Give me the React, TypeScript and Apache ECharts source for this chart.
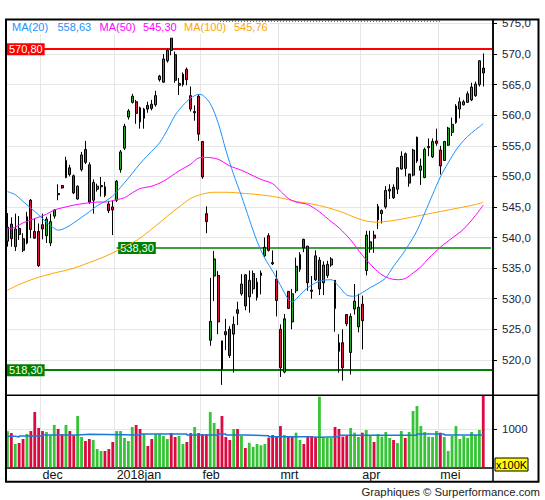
import React, { useEffect, useRef } from "react";
import * as echarts from "echarts";

const FONT = "'Liberation Sans', Arial, sans-serif";

// trading calendar (AEX): first session and exchange holidays
const START_DATE = "2017-11-20";
const HOLIDAYS = ["2017-12-25", "2017-12-26", "2018-01-01", "2018-03-30", "2018-04-02", "2018-05-01"];
const SLOT_COUNT = 125;
const MONTHS_NL = ["jan", "feb", "mrt", "apr", "mei", "jun", "jul", "aug", "sep", "okt", "nov", "dec"];

// [open, close, low, high]
const candles: number[][] = [
  [539.4, 541.7, 538.5, 544.0], [542.2, 539.8, 538.5, 543.3], [538.5, 541.4, 537.8, 543.9], [541.5, 540.5, 539.6, 543.5],
  [539.8, 537.9, 537.6, 540.7], [539.1, 543.4, 538.9, 544.2], [546.1, 541.3, 539.9, 546.3], [541.0, 539.9, 539.8, 543.1],
  [541.0, 535.4, 535.2, 542.3], [542.1, 541.4, 539.7, 543.9], [540.3, 543.0, 539.1, 543.4], [539.1, 542.6, 538.6, 543.9],
  [543.5, 544.5, 543.1, 544.6], [547.2, 547.0, 546.1, 548.7], [548.5, 548.1, 548.0, 548.6], [549.8, 552.6, 549.7, 553.2],
  [551.4, 550.3, 550.0, 551.9], [550.1, 547.3, 547.1, 550.3], [546.3, 548.4, 546.2, 548.5], [551.1, 553.5, 550.8, 554.0],
  [554.4, 552.3, 552.0, 555.8], [551.9, 545.8, 545.5, 552.3], [546.1, 549.0, 543.9, 549.5], [547.9, 548.4, 547.5, 548.8],
  [548.3, 548.5, 546.7, 549.9], [548.3, 546.9, 546.6, 549.1], [545.5, 544.4, 544.0, 546.0], [545.0, 544.5, 540.4, 546.1],
  [546.1, 549.2, 545.8, 549.4], [551.1, 554.0, 550.6, 554.3], [554.6, 558.2, 554.3, 558.6], [559.7, 560.7, 559.3, 561.0],
  [562.1, 563.1, 561.9, 563.5], [562.2, 560.3, 558.6, 562.5], [561.2, 558.9, 557.8, 561.4], [559.5, 561.0, 557.8, 561.2],
  [561.6, 561.0, 560.4, 562.2], [561.8, 561.1, 560.8, 562.5], [561.7, 563.2, 561.4, 564.0], [565.8, 566.4, 565.5, 566.6],
  [565.4, 569.2, 565.3, 570.0], [568.9, 570.6, 568.6, 570.9], [572.6, 570.6, 569.8, 572.6], [569.9, 565.7, 565.3, 570.4],
  [564.9, 565.2, 563.3, 566.1], [565.0, 566.7, 564.7, 567.0], [567.5, 565.8, 564.9, 567.8], [563.2, 561.0, 560.6, 564.7],
  [560.4, 560.6, 559.1, 561.6], [563.1, 556.9, 555.8, 563.4], [555.7, 549.9, 549.6, 555.8], [543.9, 542.6, 540.7, 545.1],
  [523.2, 526.3, 522.3, 533.4], [533.7, 536.5, 529.6, 537.8], [533.8, 526.2, 524.2, 534.5], [523.1, 518.5, 515.9, 523.1],
  [524.6, 524.1, 521.6, 526.7], [525.0, 520.7, 520.3, 525.5], [524.2, 525.8, 517.9, 527.1], [528.2, 527.6, 525.7, 529.5],
  [530.8, 532.4, 530.5, 534.0], [533.9, 528.8, 528.1, 534.0], [530.3, 533.0, 527.7, 534.6], [531.6, 534.1, 530.8, 534.6],
  [530.2, 532.7, 529.7, 533.4], [533.8, 534.2, 530.7, 534.6], [537.0, 538.4, 536.8, 540.0], [540.3, 537.9, 537.7, 540.7],
  [535.9, 535.7, 535.5, 537.9], [533.2, 529.7, 527.1, 534.6], [525.0, 518.7, 517.2, 525.8], [518.0, 526.7, 517.8, 527.5],
  [531.2, 528.4, 528.3, 531.2], [526.2, 530.8, 525.0, 531.6], [531.3, 535.3, 530.9, 536.7], [534.8, 537.2, 534.4, 537.6],
  [539.7, 538.3, 537.6, 539.8], [538.6, 532.6, 531.3, 538.6], [531.4, 531.2, 530.0, 533.7], [533.1, 537.0, 532.9, 537.9],
  [536.3, 531.6, 530.6, 536.8], [532.6, 535.5, 530.6, 536.1], [533.8, 535.6, 533.4, 536.2], [535.5, 536.5, 535.2, 536.8],
  [533.0, 528.4, 524.6, 533.0], [522.8, 521.4, 517.9, 524.2], [522.8, 518.7, 516.6, 525.0], [527.4, 525.9, 525.5, 527.4],
  [521.2, 527.1, 517.6, 527.6], [528.3, 529.6, 527.4, 532.4], [525.4, 528.6, 524.5, 530.8], [529.1, 526.4, 521.7, 530.5],
  [534.6, 540.4, 533.8, 541.1], [538.1, 539.3, 537.5, 541.1], [540.4, 539.9, 537.5, 541.1], [542.9, 545.1, 541.4, 545.5],
  [543.9, 544.4, 542.3, 544.6], [545.0, 547.7, 544.7, 548.4], [547.6, 547.9, 546.3, 548.7], [548.2, 546.5, 546.3, 548.7],
  [547.9, 551.4, 547.1, 551.5], [551.2, 553.3, 551.1, 554.1], [553.7, 551.3, 550.0, 553.9], [550.4, 548.9, 548.3, 550.4],
  [550.2, 554.3, 550.0, 554.5], [552.5, 556.4, 552.2, 556.5], [551.0, 551.7, 548.6, 552.9], [549.8, 554.4, 549.7, 554.7],
  [554.7, 554.9, 553.3, 556.2], [553.2, 555.7, 553.0, 556.2], [555.8, 555.4, 555.0, 557.8], [554.3, 551.7, 550.3, 555.0],
  [552.6, 555.7, 552.5, 555.8], [555.1, 557.9, 555.0, 558.1], [557.2, 558.5, 556.6, 559.6], [558.8, 561.5, 558.6, 561.8],
  [561.0, 562.2, 559.5, 562.9], [561.7, 562.2, 561.6, 562.5], [562.1, 563.5, 562.0, 563.9], [562.5, 564.6, 562.3, 565.3],
  [563.2, 565.1, 563.0, 565.5], [565.0, 568.9, 564.7, 569.0], [567.7, 566.9, 564.7, 570.1],
];

// volume in units of 100K
const volumes = [
  947, 894, 607, 634, 739, 869, 947, 1443, 1026, 947,
  921, 834, 1104, 1000, 869, 1104, 947, 834, 1339, 791,
  686, 739, 712, 477, 425, 425, 477, 660, 947, 947,
  765, 686, 1052, 1104, 1000, 869, 556, 739, 869, 869,
  817, 739, 894, 791, 817, 607, 660, 894, 1052, 894,
  869, 869, 1443, 1157, 1000, 1339, 791, 712, 1000, 1000,
  817, 504, 640, 535, 608, 573, 608, 773, 843, 817,
  1077, 843, 817, 817, 904, 713, 608, 817, 817, 782,
  1844, 765, 765, 765, 1052, 1000, 800, 843, 1026, 904,
  791, 904, 974, 817, 660, 869, 800, 921, 765, 713,
  634, 947, 765, 921, 1470, 1601, 1077, 921, 800, 791,
  947, 904, 791, 426, 817, 1077, 739, 817, 765, 921,
  843, 974, 1870,
];
// g = up-day bar, r = down-day bar (as coloured in the picture)
const volumeDir =
  "grgrrgrrrr" + "gggrrgrrgg" + "rrgggrrrgg" + "gggrrgrrgg" + "ggrrggrrgr" + "rrggrrrrgr" +
  "grgggggrrr" + "rgrrggrrrr" + "ggggrrrrgg" + "grggrggggr" + "ggrggggggg" + "grgggggggg" + "ggr";

// average volume (step line): [start index, level]
const avgVolumeSteps: number[][] = [
  [0, 808], [2, 791], [3, 817], [9, 843], [18, 860], [21, 843], [34, 869], [46, 843], [54, 869], [56, 843],
  [61, 826], [67, 800], [76, 782], [80, 800], [85, 834], [105, 869], [112, 843], [122, 843],
];

// moving averages: [index, value]
const ma20: number[][] = [
  [0, 547.5], [2, 547.0], [4, 545.9], [6, 544.8], [8, 543.7], [10, 542.5], [12, 541.5], [13, 541.2], [15, 541.6],
  [17, 542.4], [19, 543.3], [21, 544.2], [23, 545.2], [25, 545.9], [27, 546.8], [29, 548.2], [31, 549.7], [33, 551.3],
  [35, 552.8], [37, 554.1], [39, 555.5], [41, 557.6], [43, 560.0], [45, 561.6], [47, 562.8], [49, 563.4], [50, 563.3],
  [52, 561.9], [54, 558.8], [56, 554.3], [58, 550.3], [60, 546.8], [62, 543.0], [64, 539.4], [66, 536.6], [68, 534.5],
  [70, 532.2], [72, 529.9], [73, 529.5], [75, 530.6], [77, 531.8], [79, 532.6], [81, 533.0], [83, 533.1], [85, 532.0],
  [87, 530.6], [89, 530.4], [91, 531.0], [93, 531.8], [95, 532.5], [97, 533.4], [99, 535.3], [101, 537.0], [103, 538.9],
  [105, 541.1], [107, 544.0], [109, 547.0], [111, 549.9], [113, 552.2], [115, 554.3], [117, 555.9], [119, 557.1],
  [121, 558.1], [122, 558.63],
];
const ma50: number[][] = [
  [0, 541.4], [2, 541.7], [4, 542.4], [7, 543.1], [10, 543.8], [12, 544.5], [15, 545.0], [17, 545.3], [20, 545.6],
  [23, 545.8], [25, 545.8], [28, 546.2], [30, 546.5], [32, 547.3], [34, 548.0], [37, 548.4], [40, 549.2], [44, 550.9],
  [47, 552.0], [49, 553.0], [51, 553.1], [54, 552.8], [57, 551.7], [60, 551.0], [63, 550.1], [65, 549.5], [68, 548.8],
  [70, 547.6], [72, 546.4], [74, 545.8], [77, 545.4], [80, 544.2], [83, 542.6], [85, 541.6], [88, 539.6], [91, 537.1],
  [94, 535.0], [96, 533.9], [98, 533.3], [100, 533.1], [102, 533.3], [104, 534.2], [106, 535.2], [108, 536.6],
  [111, 538.4], [114, 539.9], [117, 541.4], [120, 543.6], [122, 545.3],
];
const ma100: number[][] = [
  [0, 531.4], [3, 532.3], [7, 533.3], [12, 534.2], [16, 534.8], [21, 535.9], [25, 536.9], [28, 537.8], [31, 538.8],
  [34, 539.9], [38, 541.9], [41, 543.5], [44, 545.0], [47, 546.4], [50, 547.1], [53, 547.4], [56, 547.4], [61, 547.2],
  [66, 546.9], [70, 546.5], [74, 545.9], [78, 545.5], [82, 544.9], [86, 544.1], [89, 543.3], [92, 542.7], [95, 542.5],
  [98, 542.7], [101, 543.0], [105, 543.5], [109, 544.0], [113, 544.5], [117, 545.0], [120, 545.4], [122, 545.76],
];

// horizontal price levels
const resistanceLevel = 570.8;
const supportLevel = 518.3;
const midLevel = 538.3;
const midLevelStartIndex = 28;

const priceTicks = [520, 525, 530, 535, 540, 545, 550, 555, 560, 565, 570, 575];
const volumeTicks = [1000];

const C_UP = "#22a822";
const C_DOWN = "#dc143c";
const V_UP = "#36c436";
const V_DOWN = "#dc0a40";
const C_MA20 = "#1e90ff";
const C_MA50 = "#ff00ff";
const C_MA100 = "#ffa500";
const C_RES = "#ff0000";
const C_SUP = "#008000";
const GRID_C = "#e6e6e6";

function tradingDays(start: string, count: number, holidays: string[]): string[] {
  const out: string[] = [];
  const d = new Date(start + "T12:00:00Z");
  while (out.length < count) {
    const dow = d.getUTCDay();
    const iso = d.toISOString().slice(0, 10);
    if (dow !== 0 && dow !== 6 && holidays.indexOf(iso) < 0) out.push(iso);
    d.setUTCDate(d.getUTCDate() + 1);
  }
  return out;
}

const fmt = (v: number, dec: number) => v.toFixed(dec).replace(".", ",");

export default function App() {
  const ref = useRef<HTMLDivElement>(null);

  useEffect(() => {
    const el = ref.current;
    if (!el) return;
    const chart = echarts.init(el, undefined, { renderer: "svg" });

    const categories = tradingDays(START_DATE, SLOT_COUNT, HOLIDAYS);
    const monthStarts: number[] = [];
    categories.forEach((c, i) => {
      if (i > 0 && c.slice(5, 7) !== categories[i - 1].slice(5, 7)) monthStarts.push(i);
    });
    const isMonthStart = (i: number) => monthStarts.indexOf(i) >= 0;
    const monthLabel = (val: string) => {
      const m = parseInt(val.slice(5, 7), 10);
      return m === 1 ? val.slice(0, 4) + "jan" : MONTHS_NL[m - 1];
    };

    const last = (a: number[][]) => a[a.length - 1][1];

    const levelLabel = (value: number, bg: string) => ({
      show: true,
      position: "insideStart",
      distance: [1.5, 0],
      formatter: fmt(value, 2),
      color: "#fff",
      backgroundColor: bg,
      fontFamily: FONT,
      fontSize: 11,
      lineHeight: 11,
      padding: [1, 2, 0, 2],
    });

    const legendItems = [
      { x: 12, text: "MA(20)", color: C_MA20 },
      { x: 57.5, text: fmt(last(ma20), 2), color: C_MA20 },
      { x: 99.5, text: "MA(50)", color: C_MA50 },
      { x: 143, text: fmt(last(ma50), 2), color: C_MA50 },
      { x: 184, text: "MA(100)", color: C_MA100 },
      { x: 234, text: fmt(last(ma100), 2), color: C_MA100 },
    ];

    const option: any = {
      animation: false,
      backgroundColor: "#ffffff",
      textStyle: { fontFamily: FONT },
      grid: [
        { left: 5.5, top: 19.5, width: 487.5, height: 375.8 },
        { left: 5.5, top: 395.3, width: 487.5, height: 72 },
      ],
      xAxis: [
        {
          type: "category",
          gridIndex: 0,
          data: categories,
          boundaryGap: true,
          axisLine: { show: false },
          axisTick: { show: false },
          axisLabel: { show: false },
          splitLine: { show: true, interval: (i: number) => isMonthStart(i), lineStyle: { color: GRID_C, width: 1 } },
        },
        {
          type: "category",
          gridIndex: 1,
          data: categories,
          boundaryGap: true,
          axisLine: { show: true, lineStyle: { color: "#000", width: 1.5 } },
          axisTick: { show: false },
          axisLabel: {
            show: true,
            interval: (i: number) => isMonthStart(i),
            formatter: (v: string) => monthLabel(v),
            align: "left",
            margin: 1,
            color: "#111",
            fontFamily: FONT,
            fontSize: 12.5,
          },
          splitLine: { show: true, interval: (i: number) => isMonthStart(i), lineStyle: { color: GRID_C, width: 1 } },
        },
      ],
      yAxis: [
        {
          type: "value",
          gridIndex: 0,
          position: "right",
          min: 514.2,
          max: 575.65,
          splitNumber: 12,
          axisLine: { show: true, lineStyle: { color: "#000", width: 1.5 } },
          axisTick: { show: true, length: 4, customValues: priceTicks, lineStyle: { color: "#000" } },
          axisLabel: {
            customValues: priceTicks,
            formatter: (v: number) => fmt(v, 1),
            color: "#1c1c3c",
            fontFamily: FONT,
            fontSize: 11.5,
            margin: 9,
          },
          splitLine: { show: true, lineStyle: { color: GRID_C, width: 1 } },
        },
        {
          type: "value",
          gridIndex: 1,
          position: "right",
          min: 0,
          max: 1880,
          axisLine: { show: true, lineStyle: { color: "#000", width: 1.5 } },
          axisTick: { show: true, length: 4, customValues: volumeTicks, lineStyle: { color: "#000" } },
          axisLabel: {
            customValues: volumeTicks,
            formatter: (v: number) => String(v),
            color: "#1c1c3c",
            fontFamily: FONT,
            fontSize: 11.5,
            margin: 9,
          },
          splitLine: { show: true, lineStyle: { color: GRID_C, width: 1 } },
        },
      ],
      series: [
        {
          type: "candlestick",
          xAxisIndex: 0,
          yAxisIndex: 0,
          data: candles,
          barWidth: 2.4,
          z: 3,
          itemStyle: {
            color: C_UP,
            color0: C_DOWN,
            borderColor: "#000",
            borderColor0: "#000",
            borderWidth: 1,
          },
          markLine: {
            silent: true,
            symbol: ["none", "none"],
            animation: false,
            z: 2,
            data: [
              {
                yAxis: resistanceLevel,
                lineStyle: { color: C_RES, width: 2, type: "solid" },
                label: levelLabel(resistanceLevel, C_RES),
              },
              {
                yAxis: supportLevel,
                lineStyle: { color: C_SUP, width: 2, type: "solid" },
                label: levelLabel(supportLevel, C_SUP),
              },
              [
                {
                  coord: [midLevelStartIndex, midLevel],
                  lineStyle: { color: C_SUP, width: 1.5, type: "solid" },
                  label: levelLabel(midLevel, C_SUP),
                },
                { coord: [SLOT_COUNT - 1, midLevel] },
              ],
            ],
          },
        },
        {
          type: "line",
          name: "MA(100)",
          xAxisIndex: 0,
          yAxisIndex: 0,
          data: ma100,
          symbol: "none",
          smooth: 0.3,
          z: 4,
          lineStyle: { color: C_MA100, width: 1 },
        },
        {
          type: "line",
          name: "MA(50)",
          xAxisIndex: 0,
          yAxisIndex: 0,
          data: ma50,
          symbol: "none",
          smooth: 0.3,
          z: 4,
          lineStyle: { color: C_MA50, width: 1 },
        },
        {
          type: "line",
          name: "MA(20)",
          xAxisIndex: 0,
          yAxisIndex: 0,
          data: ma20,
          symbol: "none",
          smooth: 0.3,
          z: 4,
          lineStyle: { color: C_MA20, width: 1 },
        },
        {
          type: "bar",
          xAxisIndex: 1,
          yAxisIndex: 1,
          barWidth: 2.8,
          data: volumes.map((v, i) => ({
            value: v,
            itemStyle: { color: volumeDir[i] === "g" ? V_UP : V_DOWN },
          })),
        },
        {
          type: "line",
          xAxisIndex: 1,
          yAxisIndex: 1,
          step: "end",
          data: avgVolumeSteps,
          symbol: "none",
          z: 5,
          lineStyle: { color: "#1a78d8", width: 1.5 },
        },
      ],
      graphic: [
        {
          type: "rect",
          z: 50,
          shape: { x: 6.5, y: 20.3, width: 263, height: 13.5 },
          style: { fill: "#ffffff" },
        },
        ...legendItems.map((it) => ({
          type: "text",
          z: 51,
          x: it.x,
          y: 27.2,
          style: {
            text: it.text,
            fill: it.color,
            fontFamily: FONT,
            fontSize: 11,
            verticalAlign: "middle",
            textVerticalAlign: "middle",
          },
        })),
        {
          type: "line",
          z: 50,
          shape: { x1: 220, y1: 21.3, x2: 440, y2: 21.3 },
          style: { stroke: "#555", lineWidth: 1, lineDash: [1, 2] },
        },
        {
          type: "rect",
          z: 60,
          shape: { x: 6, y: 19.5, width: 532.5, height: 462.2 },
          style: { fill: "none", stroke: "#000", lineWidth: 2 },
        },
        {
          type: "line",
          z: 60,
          shape: { x1: 6, y1: 395.3, x2: 538.5, y2: 395.3 },
          style: { stroke: "#000", lineWidth: 1.5 },
        },
        {
          type: "line",
          z: 60,
          shape: { x1: 493, y1: 19.5, x2: 493, y2: 481.7 },
          style: { stroke: "#000", lineWidth: 1.5 },
        },
        {
          type: "rect",
          z: 60,
          shape: { x: 495, y: 458, width: 33, height: 13 },
          style: { fill: "#ffff00", stroke: "#000", lineWidth: 1 },
        },
        {
          type: "text",
          z: 61,
          x: 511.5,
          y: 464.8,
          style: {
            text: "x100K",
            fill: "#000",
            fontFamily: FONT,
            fontSize: 11,
            align: "center",
            textAlign: "center",
            verticalAlign: "middle",
            textVerticalAlign: "middle",
          },
        },
        {
          type: "text",
          z: 61,
          x: 540,
          y: 491.5,
          style: {
            text: "Graphiques \u00a9 Surperformance.com",
            fill: "#222",
            fontFamily: FONT,
            fontSize: 11.3,
            align: "right",
            textAlign: "right",
            verticalAlign: "middle",
            textVerticalAlign: "middle",
          },
        },
      ],
    };

    chart.setOption(option);
    return () => chart.dispose();
  }, []);

  return (
    <div
      ref={ref}
      style={{ position: "fixed", left: 0, top: 0, width: 545, height: 500, background: "#ffffff" }}
    />
  );
}
